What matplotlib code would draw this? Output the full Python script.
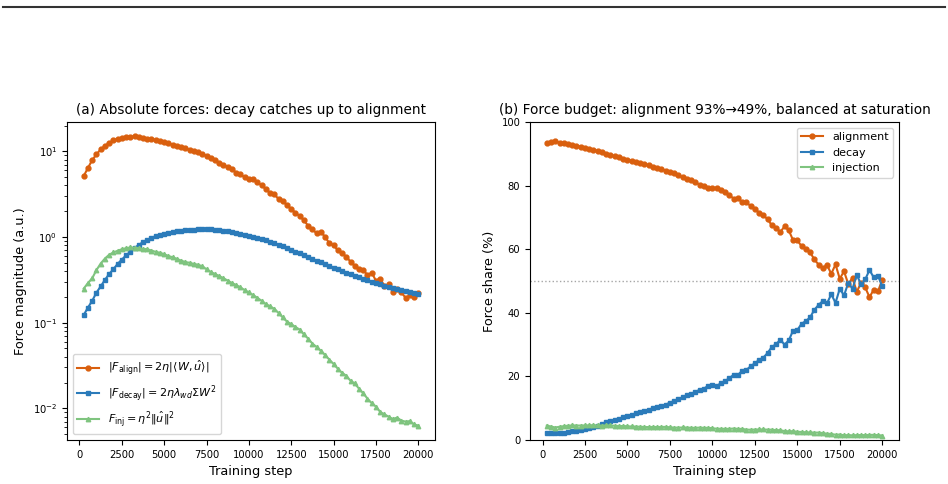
import numpy as np
import matplotlib
matplotlib.use("Agg")
import matplotlib.pyplot as plt
from matplotlib.lines import Line2D

steps = np.arange(250, 20001, 250)

align = [5.15, 6.4, 7.9, 9.2, 10.5, 11.6, 12.5, 13.4, 14.0, 14.4,
         14.7, 14.8, 14.9, 14.8, 14.2, 14.0, 13.85, 13.6, 13.2, 12.85,
         12.4, 12.0, 11.6, 11.2, 10.85, 10.45, 10.2, 9.85, 9.35, 8.85,
         8.4, 7.9, 7.35, 6.9, 6.6, 6.15, 5.65, 5.4, 4.95, 4.8,
         4.7, 4.34, 4.0, 3.62, 3.26, 3.15, 2.78, 2.63, 2.35, 2.12,
         1.92, 1.76, 1.56, 1.35, 1.23, 1.10, 1.13, 1.01, 0.84, 0.80,
         0.70, 0.644, 0.59, 0.514, 0.461, 0.421, 0.416, 0.357, 0.384, 0.309,
         0.327, 0.268, 0.28, 0.227, 0.247, 0.226, 0.195, 0.208, 0.199, 0.224]

decay = [0.123, 0.15, 0.18, 0.224, 0.265, 0.315, 0.37, 0.42, 0.485, 0.545,
         0.61, 0.67, 0.74, 0.81, 0.87, 0.92, 0.975, 1.025, 1.065, 1.095,
         1.125, 1.15, 1.17, 1.19, 1.20, 1.21, 1.22, 1.225, 1.23, 1.23,
         1.225, 1.215, 1.20, 1.185, 1.165, 1.14, 1.115, 1.09, 1.065, 1.04,
         1.01, 0.98, 0.95, 0.915, 0.88, 0.845, 0.81, 0.775, 0.74, 0.705,
         0.675, 0.645, 0.615, 0.585, 0.555, 0.53, 0.505, 0.48, 0.46, 0.44,
         0.42, 0.40, 0.385, 0.37, 0.355, 0.34, 0.325, 0.313, 0.30, 0.29,
         0.28, 0.27, 0.261, 0.253, 0.245, 0.238, 0.232, 0.225, 0.22, 0.215]

inj = [0.25, 0.29, 0.33, 0.41, 0.49, 0.56, 0.62, 0.66, 0.69, 0.72,
       0.74, 0.755, 0.75, 0.74, 0.725, 0.72, 0.695, 0.67, 0.655, 0.63,
       0.60, 0.58, 0.555, 0.53, 0.51, 0.50, 0.485, 0.475, 0.455, 0.42,
       0.39, 0.37, 0.35, 0.33, 0.31, 0.29, 0.275, 0.258, 0.24, 0.225,
       0.21, 0.195, 0.18, 0.165, 0.155, 0.145, 0.13, 0.115, 0.103, 0.096,
       0.089, 0.083, 0.073, 0.065, 0.057, 0.052, 0.047, 0.042, 0.037, 0.033,
       0.029, 0.026, 0.024, 0.021, 0.0195, 0.017, 0.015, 0.013, 0.0115, 0.0105,
       0.0091, 0.0085, 0.008, 0.0075, 0.0078, 0.0072, 0.007, 0.0071, 0.0065, 0.0063]

xticks = [0, 2500, 5000, 7500, 10000, 12500, 15000, 17500, 20000]

c_align = '#d95f0e'
c_decay = '#2b7bba'
c_inj = '#7fc47f'

a = np.array(align); d = np.array(decay); i = np.array(inj)
tot = a + d + i
sa, sd, si = 100 * a / tot, 100 * d / tot, 100 * i / tot

fig = plt.figure(figsize=(9.48, 4.84), dpi=100)
W, H = 948, 484
ax1 = fig.add_axes([67 / W, 1 - 440 / H, (435 - 67) / W, (440 - 122) / H])
ax2 = fig.add_axes([530 / W, 1 - 440 / H, (899 - 530) / W, (440 - 122) / H])

fs_tick, fs_lab, fs_title, fs_leg = 7.2, 9.3, 9.8, 8.0

ax1.plot(steps, a, '-o', color=c_align, ms=3.5, lw=1.5,
         label=r'$|F_{\mathrm{align}}| = 2\eta|\langle W,\hat{u}\rangle|$')
ax1.plot(steps, d, '-s', color=c_decay, ms=3.2, lw=1.5,
         label=r'$|F_{\mathrm{decay}}| = 2\eta\lambda_{wd}\Sigma W^2$')
ax1.plot(steps, i, '-^', color=c_inj, ms=3.2, lw=1.5,
         label=r'$F_{\mathrm{inj}} = \eta^2\|\hat{u}\|^2$')
ax1.set_yscale('log')
ax1.set_xticks(xticks)
ax1.set_xlabel('Training step', fontsize=fs_lab)
ax1.set_ylabel('Force magnitude (a.u.)', fontsize=fs_lab)
ax1.set_title('(a) Absolute forces: decay catches up to alignment', fontsize=fs_title)
ax1.legend(loc='lower left', fontsize=fs_leg)
ax1.tick_params(labelsize=fs_tick)

ax2.plot(steps, sa, '-o', color=c_align, ms=3.5, lw=1.5, label='alignment')
ax2.plot(steps, sd, '-s', color=c_decay, ms=3.2, lw=1.5, label='decay')
ax2.plot(steps, si, '-^', color=c_inj, ms=3.2, lw=1.5, label='injection')
ax2.axhline(50, color='gray', ls=':', lw=1, alpha=0.7)
ax2.set_ylim(0, 100)
ax2.set_xticks(xticks)
ax2.set_xlabel('Training step', fontsize=fs_lab)
ax2.set_ylabel('Force share (%)', fontsize=fs_lab)
ax2.set_title('(b) Force budget: alignment 93%\u219249%, balanced at saturation', fontsize=fs_title)
ax2.legend(loc='upper right', fontsize=fs_leg)
ax2.tick_params(labelsize=fs_tick)

fig.add_artist(Line2D([3 / W, 945 / W], [1 - 7 / H, 1 - 7 / H], color='#333333', lw=1.5))

fig.savefig('out.png', dpi=100)
